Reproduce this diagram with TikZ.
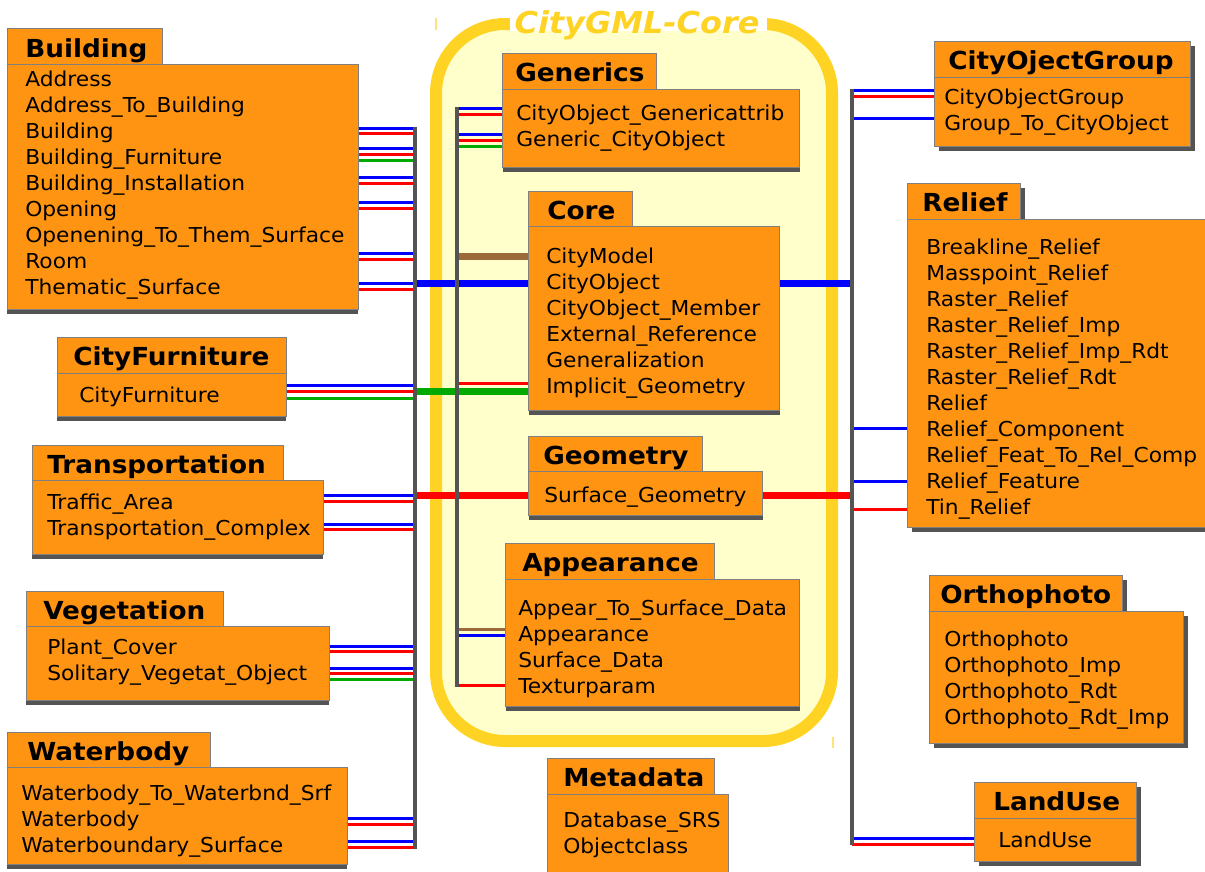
\documentclass[tikz,border=0pt]{standalone}
\usepackage{fontspec}
\setmainfont[FakeStretch=1.06]{DejaVu Sans}
\usetikzlibrary{shadows}

\definecolor{modorange}{HTML}{FF9412}
\definecolor{boxgray}{HTML}{808080}
\definecolor{shadowgray}{HTML}{545454}
\definecolor{coreyellow}{HTML}{FFD324}
\definecolor{corefill}{HTML}{FFFFCC}
\definecolor{tickyellow}{HTML}{FFE27A}
\definecolor{cblue}{HTML}{0000FF}
\definecolor{cred}{HTML}{FF0000}
\definecolor{cgreen}{HTML}{00AA00}
\definecolor{cbrown}{HTML}{9C6A3A}

\pgfdeclarelayer{bg}
\pgfdeclarelayer{lines}
\pgfdeclarelayer{bus}
\pgfsetlayers{bg,lines,bus,main}

% one text row per entry, 26px apart, starting at the given baseline
\newcommand\modrows[4]{%
  \foreach \t [count=\i] in {#4}{\node[row] (#1\i) at (#2,{#3+26*(\i-1)}) {\t};}}
% connector from the east side of a module to a bus, at a given height
\newcommand\lconn[4]{\draw[#1] (#2.east |- 0,#3) -- (#4 |- 0,#3);}
% connector from a bus to the west side of a module, at a given height
\newcommand\rconn[4]{\draw[#1] (#4 |- 0,#3) -- (#2.west |- 0,#3);}

\begin{document}
\begin{tikzpicture}[x=0.75pt,y=-0.75pt,
  row/.style={anchor=base west, inner sep=0pt, font=\fontsize{15.4}{18}\selectfont},
  ttl/.style={anchor=base west, inner sep=0pt, font=\bfseries\fontsize{18.6}{22}\selectfont},
  box/.style={anchor=north west, draw=boxgray, line width=0.75pt, fill=modorange, inner sep=0pt},
  dim/.style args={#1/#2}{minimum width=#1*0.75pt, minimum height=#2*0.75pt},
  shL/.style={drop shadow={shadow xshift=-0.75pt, shadow yshift=-3pt, fill=shadowgray, opacity=1}},
  shM/.style={drop shadow={shadow xshift=0pt, shadow yshift=-3pt, fill=shadowgray, opacity=1}},
  shR/.style={drop shadow={shadow xshift=3pt, shadow yshift=-3pt, fill=shadowgray, opacity=1}},
  cb/.style={draw=cblue, line width=2.25pt},
  cr/.style={draw=cred, line width=2.25pt},
  cg/.style={draw=cgreen, line width=2.25pt},
  cbr/.style={draw=cbrown, line width=2.25pt},
  thick line/.style={line width=5.25pt},
  busline/.style={draw=shadowgray, line width=3pt},
]
\useasboundingbox (0,0) rectangle (1205,871);

% ---------- CityGML-Core frame ----------
\begin{pgfonlayer}{bg}
  \draw[draw=coreyellow, fill=corefill, line width=9pt, rounded corners=52pt]
    (436,24) rectangle (832,741);
  \fill[white] (510,16) rectangle (767,30.5);
  \draw[tickyellow, line width=1.5pt] (436,18) -- (436,30);
  \draw[tickyellow, line width=1.5pt] (833,737) -- (833,748);
\end{pgfonlayer}
\node[anchor=base, inner sep=0pt, text=coreyellow,
      font=\bfseries\itshape\fontsize{22.6}{26}\selectfont] (coretitle) at (637,33) {CityGML-Core};

% ---------- buses ----------
\coordinate (lbusT) at (415,126.5);
\coordinate (lbusB) at (415,848.5);
\coordinate (cbusT) at (457,106.5);
\coordinate (cbusB) at (457,686.5);
\coordinate (rbusT) at (852,88.5);
\coordinate (rbusB) at (852,845);
\begin{pgfonlayer}{bus}
  \draw[busline] (lbusT) -- (lbusB);
  \draw[busline] (cbusT) -- (cbusB);
  \draw[busline] (rbusT) -- (rbusB);
\end{pgfonlayer}

% ---------- left modules ----------
\node[box, dim=155/36, shL] (bldT) at (7,28) {};
\node[box, dim=351/245, shL] (bld) at (7,64) {};
\node[ttl] (bldN) at (25,57) {Building};
\modrows{bld}{25}{86}{Address, Address\_To\_Building, Building, Building\_Furniture,
  Building\_Installation, Opening, Openening\_To\_Them\_Surface, Room, Thematic\_Surface}

\node[box, dim=229/36, shL] (cfT) at (57,337) {};
\node[box, dim=229/43, shL] (cf) at (57,373) {};
\node[ttl] (cfN) at (73,365) {CityFurniture};
\modrows{cf}{79}{402}{CityFurniture}

\node[box, dim=251/35, shL] (trT) at (32,445) {};
\node[box, dim=291/74, shL] (tr) at (32,480) {};
\node[ttl] (trN) at (47,473) {Transportation};
\modrows{tr}{47}{509}{Traffic\_Area, Transportation\_Complex}

\node[box, dim=197/35, shL] (vgT) at (26,591) {};
\node[box, dim=303/74, shL] (vg) at (26,626) {};
\node[ttl] (vgN) at (43,619) {Vegetation};
\modrows{vg}{47}{654}{Plant\_Cover, Solitary\_Vegetat\_Object}

\node[box, dim=203/35, shL] (wbT) at (7,732) {};
\node[box, dim=340/97, shL] (wb) at (7,767) {};
\node[ttl] (wbN) at (27,760) {Waterbody};
\modrows{wb}{21}{800}{Waterbody\_To\_Waterbnd\_Srf, Waterbody, Waterboundary\_Surface}

% ---------- core modules ----------
\node[box, dim=154/36, shM] (genT) at (502,53) {};
\node[box, dim=297/78, shM] (gen) at (502,89) {};
\node[ttl] (genN) at (515,81) {Generics};
\modrows{gen}{516}{120}{CityObject\_Genericattrib, Generic\_CityObject}

\node[box, dim=104/35, shM] (corT) at (528,191) {};
\node[box, dim=251/184, shM] (cor) at (528,226) {};
\node[ttl] (corN) at (547,219) {Core};
\modrows{cor}{546}{263}{CityModel, CityObject, CityObject\_Member, External\_Reference,
  Generalization, Implicit\_Geometry}

\node[box, dim=174/35, shM] (geoT) at (528,436) {};
\node[box, dim=234/44, shM] (geo) at (528,471) {};
\node[ttl] (geoN) at (543,464) {Geometry};
\modrows{geo}{544}{502}{Surface\_Geometry}

\node[box, dim=209/36, shM] (appT) at (505,543) {};
\node[box, dim=294/127, shM] (app) at (505,579) {};
\node[ttl] (appN) at (522,571) {Appearance};
\modrows{app}{518}{615}{Appear\_To\_Surface\_Data, Appearance, Surface\_Data, Texturparam}

\node[box, dim=167/36, shM] (metT) at (547,758) {};
\node[box, dim=181/95, shM] (met) at (547,794) {};
\node[ttl] (metN) at (563,786) {Metadata};
\modrows{met}{563}{827}{Database\_SRS, Objectclass}

% ---------- right modules ----------
\node[box, dim=256/36, shR] (grpT) at (934,41) {};
\node[box, dim=256/69, shR] (grp) at (934,77) {};
\node[ttl] (grpN) at (948,69) {CityOjectGroup};
\modrows{grp}{944}{104}{CityObjectGroup, Group\_To\_CityObject}

\node[box, dim=113/36, shR] (relT) at (907,183) {};
\node[box, dim=310/308, shR] (rel) at (907,219) {};
\node[ttl] (relN) at (922,211) {Relief};
\modrows{rel}{926}{254}{Breakline\_Relief, Masspoint\_Relief, Raster\_Relief, Raster\_Relief\_Imp,
  Raster\_Relief\_Imp\_Rdt, Raster\_Relief\_Rdt, Relief, Relief\_Component,
  Relief\_Feat\_To\_Rel\_Comp, Relief\_Feature, Tin\_Relief}

\node[box, dim=193/36, shR] (ortT) at (929,575) {};
\node[box, dim=254/132, shR] (ort) at (929,611) {};
\node[ttl] (ortN) at (940,603) {Orthophoto};
\modrows{ort}{944}{646}{Orthophoto, Orthophoto\_Imp, Orthophoto\_Rdt, Orthophoto\_Rdt\_Imp}

\node[box, dim=162/36, shR] (luT) at (974,782) {};
\node[box, dim=162/43, shR] (lu) at (974,818) {};
\node[ttl] (luN) at (993,810) {LandUse};
\modrows{lu}{998}{847}{LandUse}

% ---------- connectors ----------
\begin{pgfonlayer}{lines}
  % left bus
  \lconn{cb}{bld}{128}{lbusT}  \lconn{cr}{bld}{133.5}{lbusT}
  \lconn{cb}{bld}{148}{lbusT}  \lconn{cr}{bld}{154}{lbusT}  \lconn{cg}{bld}{160}{lbusT}
  \lconn{cb}{bld}{177}{lbusT}  \lconn{cr}{bld}{183}{lbusT}
  \lconn{cb}{bld}{202}{lbusT}  \lconn{cr}{bld}{208}{lbusT}
  \lconn{cb}{bld}{253}{lbusT}  \lconn{cr}{bld}{259}{lbusT}
  \lconn{cb}{bld}{283}{lbusT}  \lconn{cr}{bld}{289}{lbusT}
  \lconn{cb}{cf}{385}{lbusT}   \lconn{cr}{cf}{391.5}{lbusT} \lconn{cg}{cf}{398}{lbusT}
  \lconn{cb}{tr}{495}{lbusT}   \lconn{cr}{tr}{501}{lbusT}
  \lconn{cb}{tr}{524}{lbusT}   \lconn{cr}{tr}{529.5}{lbusT}
  \lconn{cb}{vg}{646}{lbusT}   \lconn{cr}{vg}{651.5}{lbusT}
  \lconn{cb}{vg}{668}{lbusT}   \lconn{cr}{vg}{673.5}{lbusT} \lconn{cg}{vg}{679}{lbusT}
  \lconn{cb}{wb}{818}{lbusT}   \lconn{cr}{wb}{824}{lbusT}
  \lconn{cb}{wb}{841}{lbusT}   \lconn{cr}{wb}{847}{lbusT}
  % thick links between the left bus and the core modules
  \rconn{cb, thick line}{cor}{283}{lbusT}
  \rconn{cg, thick line}{cor}{391}{lbusT}
  \rconn{cr, thick line}{geo}{495}{lbusT}
  % inner core bus
  \rconn{cb}{gen}{108}{cbusT}  \rconn{cr}{gen}{114.5}{cbusT}
  \rconn{cb}{gen}{134}{cbusT}  \rconn{cr}{gen}{140}{cbusT}  \rconn{cg}{gen}{146}{cbusT}
  \rconn{cbr, thick line}{cor}{256}{cbusT}
  \rconn{cr}{cor}{383}{cbusT}
  \rconn{cbr}{app}{629}{cbusT} \rconn{cb}{app}{635}{cbusT}
  \rconn{cr}{app}{685}{cbusT}
  % right bus
  \lconn{cb, thick line}{cor}{283}{rbusT}
  \lconn{cr, thick line}{geo}{495}{rbusT}
  \rconn{cb}{grp}{90}{rbusT}   \rconn{cr}{grp}{96}{rbusT}
  \rconn{cb}{grp}{118}{rbusT}
  \rconn{cb}{rel}{428}{rbusT}
  \rconn{cb}{rel}{481}{rbusT}
  \rconn{cr}{rel}{509}{rbusT}
  \rconn{cb}{lu}{838}{rbusT}   \rconn{cr}{lu}{844}{rbusT}
\end{pgfonlayer}
\end{tikzpicture}
\end{document}
